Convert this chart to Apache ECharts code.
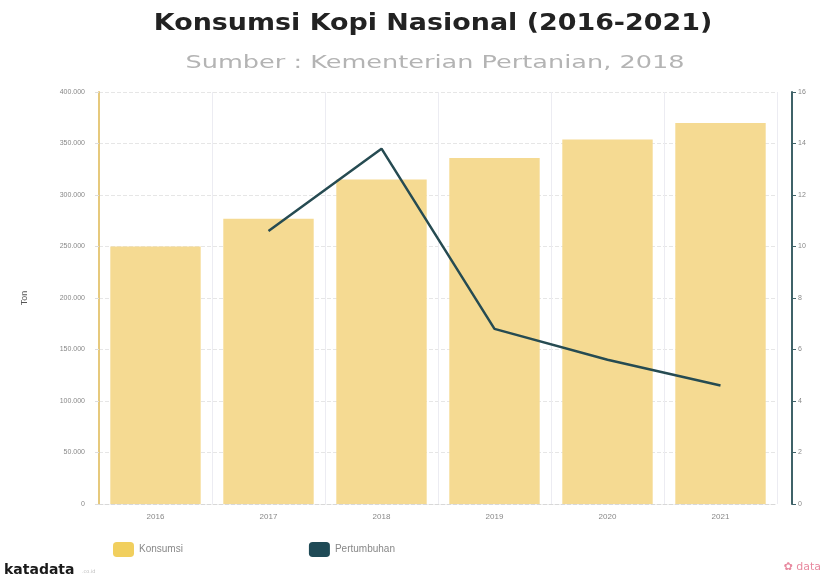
<!DOCTYPE html>
<html>
<head>
    <meta charset="utf-8">
    <title>Konsumsi Kopi Nasional</title>
    <script src="https://cdn.jsdelivr.net/npm/echarts@6/dist/echarts.min.js"></script>
</head>
<body style="margin:0;background:#fff;">
    <div id="main" style="width:823px;height:581px;"></div>
    <script type="text/javascript">
        var myChart = echarts.init(document.getElementById('main'));

        // data
        var years = ['2016', '2017', '2018', '2019', '2020', '2021'];
        var konsumsi = [250000, 277000, 315000, 336000, 354000, 370000];
        var pertumbuhan = [null, 10.6, 13.8, 6.8, 5.6, 4.6];

        var option = {
            backgroundColor: '#fff',
            legend: {
                left: 108, top: 537,
                itemGap: 126, itemWidth: 21, itemHeight: 15,
                icon: 'roundRect',
                textStyle: { fontSize: 10, color: '#888' },
                data: [
                    { name: 'Konsumsi', itemStyle: { color: '#f1cf5e' } },
                    { name: 'Pertumbuhan', itemStyle: { color: '#1f4a56' } }
                ]
            },
            grid: { left: 99, right: 46, top: 92, bottom: 77 },
            xAxis: {
                type: 'category',
                data: years,
                axisLine: { show: true, lineStyle: { color: '#d8d8d8', type: 'dashed' } },
                axisTick: { show: false },
                splitLine: { show: true, lineStyle: { color: '#ececf2' } },
                axisLabel: { fontSize: 8, color: '#888', margin: 9 }
            },
            yAxis: [
                {
                    type: 'value',
                    name: 'Ton',
                    nameLocation: 'middle',
                    nameGap: 70,
                    nameRotate: 90,
                    nameTextStyle: { fontSize: 9, color: '#555' },
                    min: 0, max: 400000, interval: 50000,
                    axisLine: { show: true, lineStyle: { color: '#e6c97c', width: 2 } },
                    axisTick: { show: true, length: 4, lineStyle: { color: '#ddd' } },
                    splitLine: { lineStyle: { color: '#e6e6e6', type: 'dashed' } },
                    axisLabel: {
                        fontSize: 7, color: '#888', margin: 14,
                        formatter: function (v) { return v === 0 ? '0' : (v / 1000) + '.000'; }
                    }
                },
                {
                    type: 'value',
                    min: 0, max: 16, interval: 2,
                    offset: 15,
                    axisLine: { show: true, lineStyle: { color: '#3f6268', width: 2 } },
                    axisTick: { show: true, length: 4, lineStyle: { color: '#3f6268' } },
                    splitLine: { show: false },
                    axisLabel: { fontSize: 7, color: '#888', margin: 6 }
                }
            ],
            series: [
                {
                    name: 'Konsumsi',
                    type: 'bar',
                    barWidth: '80%',
                    itemStyle: { color: '#f5da92' },
                    data: konsumsi
                },
                {
                    name: 'Pertumbuhan',
                    type: 'line',
                    yAxisIndex: 1,
                    symbol: 'none',
                    lineStyle: { color: '#264b52', width: 2.5 },
                    data: pertumbuhan
                }
            ],
            graphic: [
                // title + subtitle, stretched to match the wide original typeface
                {
                    type: 'text', x: 433, y: 13, scaleX: 1.17,
                    style: {
                        text: 'Konsumsi Kopi Nasional (2016-2021)',
                        font: 'bold 23px "DejaVu Sans"', fill: '#222', align: 'center'
                    }
                },
                {
                    type: 'text', x: 435, y: 54, scaleX: 1.42,
                    style: {
                        text: 'Sumber : Kementerian Pertanian, 2018',
                        font: '18px "DejaVu Sans"', fill: '#b4b4b4', align: 'center'
                    }
                },
                {
                    type: 'text', left: 4, top: 563,
                    style: { text: 'katadata', font: 'bold 14px "DejaVu Sans"', fill: '#1a1a1a' }
                },
                {
                    type: 'text', left: 82, top: 569,
                    style: { text: '.co.id', font: '5px "DejaVu Sans"', fill: '#bbb' }
                },
                {
                    type: 'text', right: 2, top: 562,
                    style: { text: '\u273f data', font: '11px "DejaVu Sans"', fill: '#e88aa0' }
                }
            ]
        };

        myChart.setOption(option);
    </script>
</body>
</html>
